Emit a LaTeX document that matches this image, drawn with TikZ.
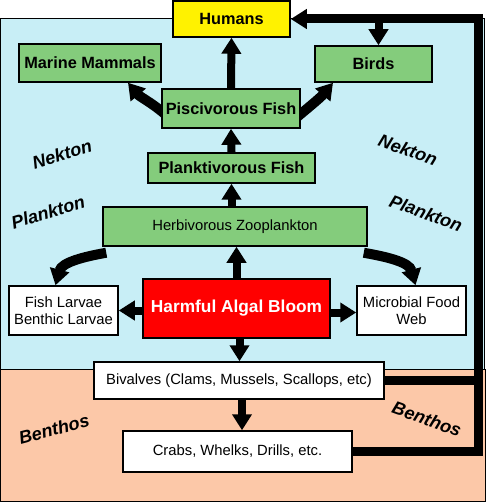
\documentclass[tikz,border=0pt]{standalone}
\usepackage{fontspec}
\setmainfont{Liberation Sans}
\usetikzlibrary{arrows.meta,backgrounds}
\definecolor{water}{RGB}{200,238,246}
\definecolor{sediment}{RGB}{252,200,168}
\definecolor{nekgreen}{RGB}{132,204,124}
\begin{document}
\begin{tikzpicture}
      [x=1pt, y=1pt,
      box/.style={draw, line width=1.5pt, inner sep=0pt, align=center},
      bold/.style={font=\bfseries\fontsize{16.3}{18}\selectfont},
      plain/.style={font=\fontsize{14.8}{16.5}\selectfont},
      zone/.style={font=\bfseries\itshape\fontsize{18}{20}\selectfont},
      feed/.style={line width=8pt, -{Triangle[length=16pt,width=19pt]}},
      link/.style={line width=9pt}]
      \useasboundingbox (0,0) rectangle (487,-502);
      % top of the web
      \node[box, bold, fill=yellow, minimum width=117pt, minimum height=36pt] (humans) at (231.5,-19) {Humans};
      \node[box, bold, fill=nekgreen, minimum width=142pt, minimum height=38pt] (mammals) at (90,-63) {Marine Mammals};
      \node[box, bold, fill=nekgreen, minimum width=117pt, minimum height=36pt] (birds) at (373.5,-64) {Birds};
      \node[box, bold, fill=nekgreen, minimum width=138pt, minimum height=39pt] (pisc) at (231,-108.5) {Piscivorous Fish};
      \node[box, bold, fill=nekgreen, minimum width=167pt, minimum height=30pt] (plankt) at (231.5,-168) {Planktivorous Fish};
      \node[box, plain, fill=nekgreen, minimum width=264pt, minimum height=39pt] (herb) at (235,-226.5) {Herbivorous Zooplankton};
      % bloom row
      \node[box, plain, fill=white, minimum width=109pt, minimum height=49pt] (larvae) at (63.5,-310.5) {Fish Larvae\\Benthic Larvae};
      \node[box, fill=red, text=white, font=\bfseries\fontsize{17.3}{19}\selectfont, minimum width=187pt, minimum height=59pt] (hab) at (236.5,-308.5) {Harmful Algal Bloom};
      \node[box, plain, fill=white, minimum width=109pt, minimum height=49pt] (microbe) at (411.5,-310.5) {Microbial Food\\Web};
      % benthos
      \node[box, plain, fill=white, minimum width=290pt, minimum height=37pt] (biv) at (239,-380.5) {Bivalves (Clams, Mussels, Scallops, etc)};
      \node[box, plain, fill=white, minimum width=229pt, minimum height=41pt] (crabs) at (237.5,-451.5) {Crabs, Whelks, Drills, etc.};
      % zone labels
      \node[zone, rotate=17] (nektonL) at (62,-154) {Nekton};
      \node[zone, rotate=17] (planktonL) at (48,-212) {Plankton};
      \node[zone, rotate=-20] (nektonR) at (408,-150) {Nekton};
      \node[zone, rotate=-20] (planktonR) at (426,-213) {Plankton};
      \node[zone, rotate=15] (benthosL) at (54,-429) {Benthos};
      \node[zone, rotate=-20] (benthosR) at (427,-419) {Benthos};
      \coordinate (corner) at (478,-19);
      \begin{scope}[on background layer]
        \filldraw[fill=water, line width=1pt] (0.5,-19) rectangle (484,-369);
        \filldraw[fill=sediment, line width=1pt] (0.5,-369) rectangle (485,-501);
        \draw[feed] (pisc.north) -- (humans.south);
        \draw[feed, line width=10pt] ([xshift=3pt,yshift=-5pt]pisc.west) to[out=140, in=-50] ([xshift=38pt]mammals.south);
        \draw[feed, line width=10pt] ([xshift=-3pt,yshift=-8pt]pisc.east) to[out=40, in=230] ([xshift=-40.5pt]birds.south);
        \draw[feed] (plankt.north) -- (pisc.south);
        \draw[feed] (plankt.south |- herb.north) -- (plankt.south);
        \draw[feed] (hab.north) -- (hab.north |- herb.south);
        \draw[feed, line width=10pt] ([xshift=4pt,yshift=-6pt]herb.south west) to[out=190, in=75] ([xshift=-8pt]larvae.north);
        \draw[feed, line width=10pt] ([xshift=-4pt,yshift=-6pt]herb.south east) to[out=-10, in=105] ([xshift=4pt]microbe.north);
        \draw[feed] ([yshift=-2pt]hab.west) -- ([yshift=-2pt]hab.west -| larvae.east);
        \draw[feed] ([yshift=-4pt]hab.east) -- ([yshift=-4pt]hab.east -| microbe.west);
        \draw[feed] ([xshift=3pt]hab.south) -- ([xshift=3pt]hab.south |- biv.north);
        \draw[feed] ([xshift=3pt]biv.south) -- ([xshift=3pt]biv.south |- crabs.north);
        % benthos back to the top
        \draw[link] (biv.east) -- (biv.east -| corner);
        \draw[link, -{Triangle[length=16pt,width=19pt]}] (crabs.east) -| (corner) -- (humans.east);
        \draw[feed] ([xshift=5pt]birds.north |- corner) -- ([xshift=5pt]birds.north);
      \end{scope}
\end{tikzpicture}
\end{document}
